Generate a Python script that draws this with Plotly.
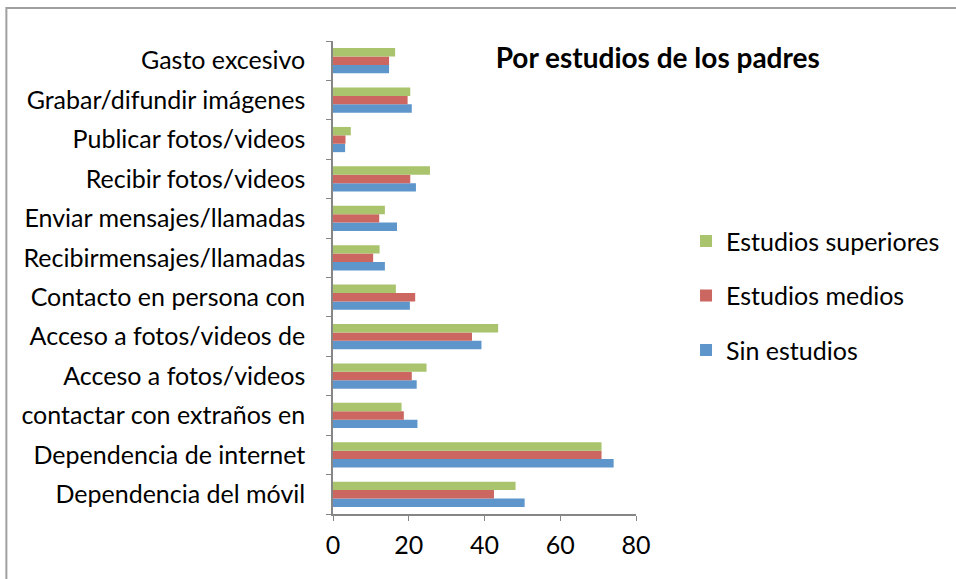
import plotly.graph_objects as go

categorias = [
    "Dependencia del móvil",
    "Dependencia de internet",
    "contactar con extraños en",
    "Acceso a fotos/videos",
    "Acceso a fotos/videos de",
    "Contacto en persona con",
    "Recibirmensajes/llamadas",
    "Enviar mensajes/llamadas",
    "Recibir fotos/videos",
    "Publicar fotos/videos",
    "Grabar/difundir imágenes",
    "Gasto excesivo",
]

sin_estudios = [50.6, 74.1, 22.3, 22.1, 39.2, 20.3, 13.7, 16.9, 21.9, 3.2, 20.8, 14.8]
estudios_medios = [42.5, 70.9, 18.7, 20.8, 36.7, 21.7, 10.6, 12.2, 20.4, 3.3, 19.7, 14.8]
estudios_superiores = [48.2, 70.9, 18.1, 24.7, 43.6, 16.6, 12.3, 13.7, 25.6, 4.7, 20.4, 16.4]

series = [
    ("Sin estudios", sin_estudios, "#5E96CB", 3),
    ("Estudios medios", estudios_medios, "#CC6660", 2),
    ("Estudios superiores", estudios_superiores, "#A9C46C", 1),
]

fig = go.Figure()
for nombre, valores, color, rank in series:
    fig.add_trace(go.Bar(
        y=categorias, x=valores, name=nombre, orientation="h",
        marker=dict(color=color, line=dict(width=0)),
        legendgroup=nombre, legendrank=rank,
    ))

font = "Lato, Calibri, sans-serif"
fig.update_layout(
    width=956, height=579,
    paper_bgcolor="white", plot_bgcolor="white",
    margin=dict(l=333, r=320, t=41, b=65),
    barmode="group", bargap=0.36, bargroupgap=0,
    font=dict(family=font, size=25, color="black"),
    title=dict(text="<b>Por estudios de los padres</b>", xref="container", x=0.688,
               xanchor="center", yref="container", y=0.9, yanchor="middle",
               font=dict(size=28, family=font)),
    showlegend=True,
    legend=dict(xref="container", yref="container", x=0.7176, y=0.489,
                xanchor="left", yanchor="middle", traceorder="grouped",
                tracegroupgap=19, font=dict(size=25), itemwidth=30),
    xaxis=dict(range=[0, 80], dtick=20, showgrid=False, zeroline=False,
               showline=True, linecolor="#868686", linewidth=1.5,
               ticks="outside", ticklen=5, tickcolor="#868686",
               ticklabelstandoff=3),
    yaxis=dict(type="category", showgrid=False, showline=True, linecolor="#868686",
               linewidth=1.5, ticks="outside", ticklen=5, tickcolor="#868686",
               tickson="boundaries", ticklabelstandoff=21),
    shapes=[dict(type="rect", xref="paper", yref="paper", x0=-1.078, y0=-0.4,
                 x1=2.5, y1=1.07, line=dict(color="#A0A0A0", width=2))],
)

# drop the browser's default 8px body margin
fig.write_html("out.html", config={"displayModeBar": False},
               post_script="document.body.style.margin='0';")
